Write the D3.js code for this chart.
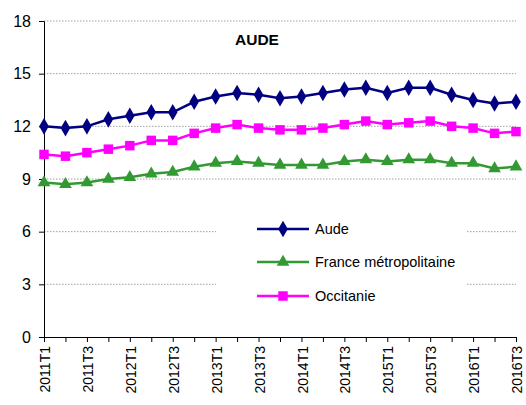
<!DOCTYPE html>
<html>
<head>
<meta charset="utf-8">
<script src="https://cdn.jsdelivr.net/npm/d3@7"></script>
<style>
  body { margin: 0; background: #fff; }
  svg { font-family: "Liberation Sans", Arial, sans-serif; }
  .grid line { stroke: #a0a0a0; stroke-dasharray: 1.5 1.5; }
</style>
</head>
<body>
<div id="chart"></div>
<script>
// ------------------------------------------
//  Data
// ------------------------------------------
const quarters = ["2011T1","2011T2","2011T3","2011T4","2012T1","2012T2","2012T3","2012T4",
  "2013T1","2013T2","2013T3","2013T4","2014T1","2014T2","2014T3","2014T4",
  "2015T1","2015T2","2015T3","2015T4","2016T1","2016T2","2016T3"]
const aude = [12.0, 11.9, 12.0, 12.4, 12.6, 12.8, 12.8, 13.4, 13.7, 13.9, 13.8, 13.6,
  13.7, 13.9, 14.1, 14.2, 13.9, 14.2, 14.2, 13.8, 13.5, 13.3, 13.4]
const france = [8.8, 8.7, 8.8, 9.0, 9.1, 9.3, 9.4, 9.7, 9.9, 10.0, 9.9, 9.8,
  9.8, 9.8, 10.0, 10.1, 10.0, 10.1, 10.1, 9.9, 9.9, 9.6, 9.7]
const occitanie = [10.4, 10.3, 10.5, 10.7, 10.9, 11.2, 11.2, 11.6, 11.9, 12.1, 11.9, 11.8,
  11.8, 11.9, 12.1, 12.3, 12.1, 12.2, 12.3, 12.0, 11.9, 11.6, 11.7]
const yTicks = [0, 3, 6, 9, 12, 15, 18]
const title = "AUDE"

const series = [
  { name: "Aude", values: aude, color: "#000080", symbol: d3.symbolDiamond, size: 80 },
  { name: "France métropolitaine", values: france, color: "#339933", symbol: d3.symbolTriangle, size: 70 },
  { name: "Occitanie", values: occitanie, color: "#ff00ff", symbol: d3.symbolSquare, size: 90 }
]

// ------------------------------------------
//  Chart
// ------------------------------------------
const width = 526, height = 405
const margin = { top: 21, right: 10, bottom: 68, left: 44 }

const svg = d3.select("#chart").append("svg")
  .attr("width", width).attr("height", height)

const x = d3.scalePoint().domain(quarters).range([margin.left, 516])
const y = d3.scaleLinear().domain([0, 18]).range([height - margin.bottom, margin.top])

// gridlines
svg.append("g").attr("class", "grid")
  .selectAll("line").data(yTicks.filter(d => d > 0))
  .join("line")
  .attr("x1", margin.left).attr("x2", 516)
  .attr("y1", d => y(d)).attr("y2", d => y(d))

// y axis
const yAxis = svg.append("g")
  .attr("transform", `translate(${margin.left},0)`)
  .call(d3.axisLeft(y).tickValues(yTicks).tickSize(5).tickPadding(8))
yAxis.select(".domain").attr("stroke", "#000")
yAxis.selectAll("text").attr("font-size", 16).attr("fill", "#000")
  .attr("font-family", "Liberation Sans, Arial, sans-serif")

// x axis
const xAxis = svg.append("g")
  .attr("transform", `translate(0,${y(0)})`)
  .call(d3.axisBottom(x).tickSize(5).tickSizeOuter(0)
    .tickFormat((d, i) => i % 2 === 0 ? d : ""))
xAxis.select(".domain").attr("stroke", "#000")
xAxis.selectAll("text")
  .attr("font-size", 14).attr("fill", "#000")
  .attr("font-family", "Liberation Sans, Arial, sans-serif")
  .attr("transform", "rotate(-90)")
  .attr("text-anchor", "end")
  .attr("x", -9).attr("y", 0).attr("dx", 0).attr("dy", "0.4em")

// legend background
const legend = svg.append("g").attr("transform", "translate(216,212)")
legend.append("rect").attr("width", 250).attr("height", 100).attr("fill", "#fff")

// lines
const line = d3.line().x((d, i) => x(quarters[i])).y(d => y(d))
series.forEach(s => {
  svg.append("path")
    .attr("d", line(s.values))
    .attr("fill", "none").attr("stroke", s.color).attr("stroke-width", 2.5)
  svg.append("g").selectAll("path").data(s.values).join("path")
    .attr("transform", (d, i) => `translate(${x(quarters[i])},${y(d)})`)
    .attr("d", d3.symbol(s.symbol, s.size))
    .attr("fill", s.color)
})

// legend entries
const legendRows = [
  { s: series[0], ly: 229 },
  { s: series[1], ly: 262 },
  { s: series[2], ly: 296 }
]
legendRows.forEach(({ s, ly }) => {
  const g = svg.append("g").attr("transform", `translate(0,${ly})`)
  g.append("line").attr("x1", 257).attr("x2", 309)
    .attr("stroke", s.color).attr("stroke-width", 2.5)
  g.append("path").attr("transform", "translate(283,0)")
    .attr("d", d3.symbol(s.symbol, s.size)).attr("fill", s.color)
  g.append("text").attr("x", 315).attr("dy", "0.35em")
    .attr("font-size", 14.5).text(s.name)
})

// title
svg.append("text").attr("x", 235).attr("y", 45)
  .attr("font-size", 15.5).attr("font-weight", "bold").text(title)
</script>
</body>
</html>
